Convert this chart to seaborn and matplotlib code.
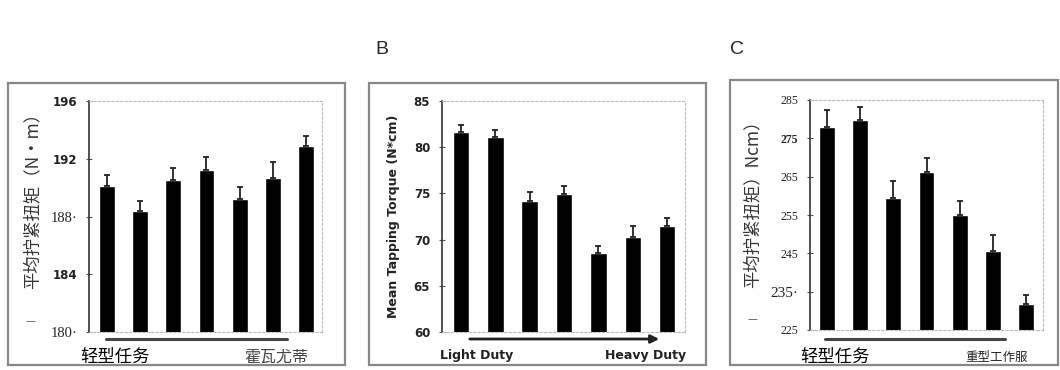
import numpy as np
import pandas as pd
import matplotlib
matplotlib.use("Agg")
import matplotlib.pyplot as plt
import seaborn as sns
from matplotlib.patches import Rectangle, FancyArrowPatch
from matplotlib.lines import Line2D

# --- data ---
groups = ["1", "2", "3", "4", "5", "6", "7"]

a_mean = [190.1, 188.4, 190.5, 191.2, 189.2, 190.7, 192.9]
a_err = [0.75, 0.7, 0.85, 0.9, 0.85, 1.05, 0.7]
a_ticks = [180, 184, 188, 192, 196]
a_ticklabels = ["180·", "184", "188·", "192", "196"]

b_mean = [81.6, 81.1, 74.2, 74.9, 68.5, 70.3, 71.5]
b_err = [0.8, 0.8, 0.95, 0.9, 0.8, 1.15, 0.8]
b_ticks = [60, 65, 70, 75, 80, 85]
b_ticklabels = ["60", "65", "70", "75", "80", "85"]

c_mean = [277.9, 279.9, 259.4, 266.3, 254.9, 245.5, 231.9]
c_err = [4.5, 3.2, 4.6, 3.7, 3.8, 4.2, 2.2]
c_ticks = [225, 235, 245, 255, 265, 275, 285]
c_ticklabels = ["225", "235·", "245", "255", "265", "275", "285"]

sns.set_theme(style="white")
plt.rcParams['font.family'] = ['Noto Sans CJK SC', 'DejaVu Sans']

W, H = 1060, 370
fig = plt.figure(figsize=(W / 100, H / 100), dpi=100)


def px(x, y):
    return x / W, 1 - y / H


def make_axes(left, right, top, bottom):
    return fig.add_axes([left / W, 1 - bottom / H, (right - left) / W, (bottom - top) / H])


def bar_panel(ax, means, errs, ylim, ticks, ticklabels, xlim, tick_font, tick_size, tick_weight):
    df = pd.DataFrame({"group": groups, "value": means})
    sns.barplot(data=df, x="group", y="value", color="black", width=0.48,
                errorbar=None, saturation=1, ax=ax)
    ax.errorbar(np.arange(len(means)), means, yerr=[np.zeros(len(errs)), errs],
                fmt="none", ecolor="#222222", elinewidth=1.3, capsize=2.5, capthick=1.3)
    ax.set_ylim(*ylim)
    ax.set_xlim(*xlim)
    ax.set_xticks([])
    ax.set_xlabel("")
    ax.set_ylabel("")
    ax.set_yticks(ticks)
    ax.set_yticklabels(ticklabels, family=tick_font, fontsize=tick_size,
                       fontweight=tick_weight, color="#222222")
    ax.tick_params(axis="y", direction="inout", length=5, width=0.8, color="#555555", pad=6, left=True)
    ax.spines["left"].set_color("#333333")
    ax.spines["left"].set_linewidth(1.2)
    for s in ["top", "right", "bottom"]:
        ax.spines[s].set_color("#bbbbbb")
        ax.spines[s].set_linestyle((0, (2, 2)))
        ax.spines[s].set_linewidth(0.8)
    ax.patch.set_alpha(0)


# panel frames
for (l, r, t, b) in [(8, 345, 83, 365), (369, 706, 83, 365), (730, 1058, 80, 365)]:
    fig.patches.append(Rectangle(px(l, b), (r - l) / W, (b - t) / H, transform=fig.transFigure,
                                 fill=False, edgecolor="#888888", linewidth=1.6))

ax_a = make_axes(89, 322, 101, 332)
bar_panel(ax_a, a_mean, a_err, (180, 196), a_ticks, a_ticklabels, (-0.54, 6.48),
          "DejaVu Sans", 8.5, "bold")
for lbl in ax_a.get_yticklabels():
    if "·" in lbl.get_text():
        lbl.set_family("Liberation Serif")
        lbl.set_fontweight("normal")
        lbl.set_fontsize(10.5)

ax_b = make_axes(442, 685, 101, 332)
bar_panel(ax_b, b_mean, b_err, (60, 85), b_ticks, b_ticklabels, (-0.55, 6.52),
          "DejaVu Sans", 8.5, "bold")

ax_c = make_axes(810, 1043, 100, 330)
bar_panel(ax_c, c_mean, c_err, (225, 285), c_ticks, c_ticklabels, (-0.51, 6.51),
          "Liberation Serif", 8.5, "normal")
for lbl in ax_c.get_yticklabels():
    if lbl.get_text() == "235·":
        lbl.set_fontsize(11)
    if lbl.get_text() == "275":
        lbl.set_fontweight("bold")

# y labels
fig.text(*px(32, 196), "平均拧紧扭矩（N·m）", rotation=90, ha="center", va="center",
         fontsize=12.5, color="#333333", family=["Noto Sans CJK SC", "DejaVu Sans"])
fig.text(*px(393, 216), "Mean Tapping Torque (N*cm)", rotation=90, ha="center", va="center",
         fontsize=9, fontweight="bold", color="#222222", family="DejaVu Sans")
fig.text(*px(752, 200), "平均拧紧扭矩）Ncm）", rotation=90, ha="center", va="center",
         fontsize=12.5, color="#333333", family=["Noto Sans CJK SC", "DejaVu Sans"])

# small dash marks
fig.text(*px(30, 322), "—", ha="center", va="center", fontsize=8, color="#555555")
fig.text(*px(752, 320), "—", ha="center", va="center", fontsize=8, color="#555555")

# lines / arrow under the bars
for (x0, x1) in [(106, 287), (825, 1005)]:
    fig.lines.append(Line2D([x0 / W, x1 / W], [1 - 339 / H, 1 - 339 / H], transform=fig.transFigure,
                            color="#444444", linewidth=2.2))
fig.patches.append(FancyArrowPatch(px(467, 339), px(662, 339), transform=fig.transFigure,
                                   arrowstyle="-|>", mutation_scale=12, color="#222222", linewidth=2))

# bottom labels
fig.text(*px(115, 357), "轻型任务", ha="center", va="center", fontsize=12.5, color="black")
fig.text(*px(276, 357), "霍瓦尤蒂", ha="center", va="center", fontsize=11.5, color="#444444")
fig.text(*px(477, 356), "Light Duty", ha="center", va="center", fontsize=9,
         fontweight="bold", color="#222222", family="DejaVu Sans")
fig.text(*px(646, 356), "Heavy Duty", ha="center", va="center", fontsize=9,
         fontweight="bold", color="#222222", family="DejaVu Sans")
fig.text(*px(835, 357), "轻型任务", ha="center", va="center", fontsize=12.5, color="black")
fig.text(*px(997, 357), "重型工作服", ha="center", va="center", fontsize=9, color="#222222")

# panel letters
fig.text(*px(382, 50), "B", ha="center", va="center", fontsize=14, family="Liberation Sans")
fig.text(*px(737, 50), "C", ha="center", va="center", fontsize=14, family="Liberation Sans")

fig.savefig("out.png", dpi=100)
